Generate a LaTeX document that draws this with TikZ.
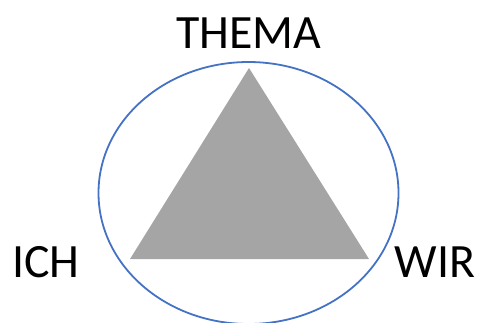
\documentclass[tikz,border=0pt]{standalone}
\usepackage{fontspec}
\setmainfont{Carlito}
\usetikzlibrary{positioning}
\definecolor{ringblue}{HTML}{4472C4}
\definecolor{trigray}{HTML}{A5A5A5}
\begin{document}
\begin{tikzpicture}[x=1bp, y=-1bp,
    lbl/.style={inner sep=0pt, anchor=base, font=\fontsize{48}{52}\selectfont}]
    \useasboundingbox (0,0) rectangle (477,322);
    \draw[ringblue, line width=1.8bp] (248.5,193) ellipse [x radius=150, y radius=131];
    \coordinate (top) at (249,68);
    \coordinate (bl)  at (130,259);
    \coordinate (br)  at (369,259);
    \fill[trigray] (top) -- (bl) -- (br) -- cycle;

    \node[lbl] (thema) at (248.5,48) {THEMA};
    \node[lbl] (ich)   at (46,277)   {ICH};
    \node[lbl] (wir)   at (435,277)  {WIR};
  \end{tikzpicture}
\end{document}
